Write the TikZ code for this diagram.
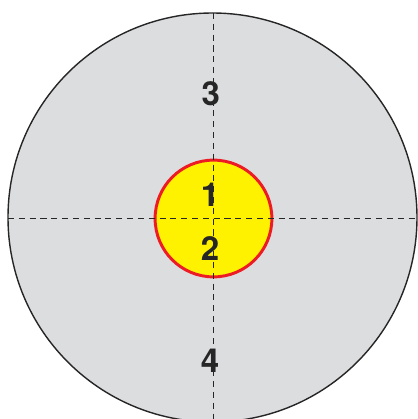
\documentclass[tikz,border=0pt]{standalone}
\usepackage{fontspec}
\setmainfont{TeX Gyre Heros}
\definecolor{zonegray}{HTML}{DCDDDF}
\definecolor{coreyellow}{HTML}{FFF200}
\definecolor{corered}{HTML}{ED1C24}
\tikzset{
    zonelabel/.style={font=\fontsize{23.5}{28}\selectfont\bfseries, text=black!85, inner sep=0pt},
    axisline/.style={draw=black!85, line width=0.7pt, dash pattern=on 4.3pt off 3.4pt}
}
\begin{document}
\begin{tikzpicture}
    
    % --- Frame of the picture ---
    \useasboundingbox (-5.3125, -5.0375) rectangle (5.1375, 5.4375);
    \clip (-5.3125, -5.0375) rectangle (5.1375, 5.4375);

    % Outer zone
    \draw[fill=zonegray, draw=black!85, line width=1pt] (0, 0) circle (5.1125cm);

    % Inner core
    \draw[fill=coreyellow, draw=corered, line width=2.1pt] (0.025, -0.025) circle (1.46cm);

    % --- Axes through the centre ---
    \coordinate (west) at (-5.1125, -0.0125);
    \coordinate (east) at (5.2, -0.0125);
    \coordinate (north) at (0.025, 5.1125);
    \coordinate (south) at (0.025, -5.1);
    \draw[axisline] (west) -- (east);
    \draw[axisline] (north) -- (south);

    % Labels, stacked along the vertical axis
    \node[zonelabel] (z3) at (-0.04, 3.09) {3};
    \node[zonelabel] (z1) at (-0.06, 0.57) {1};
    \node[zonelabel] (z2) at (-0.06, -0.78) {2};
    \node[zonelabel] (z4) at (-0.06, -3.58) {4};
\end{tikzpicture}
\end{document}
